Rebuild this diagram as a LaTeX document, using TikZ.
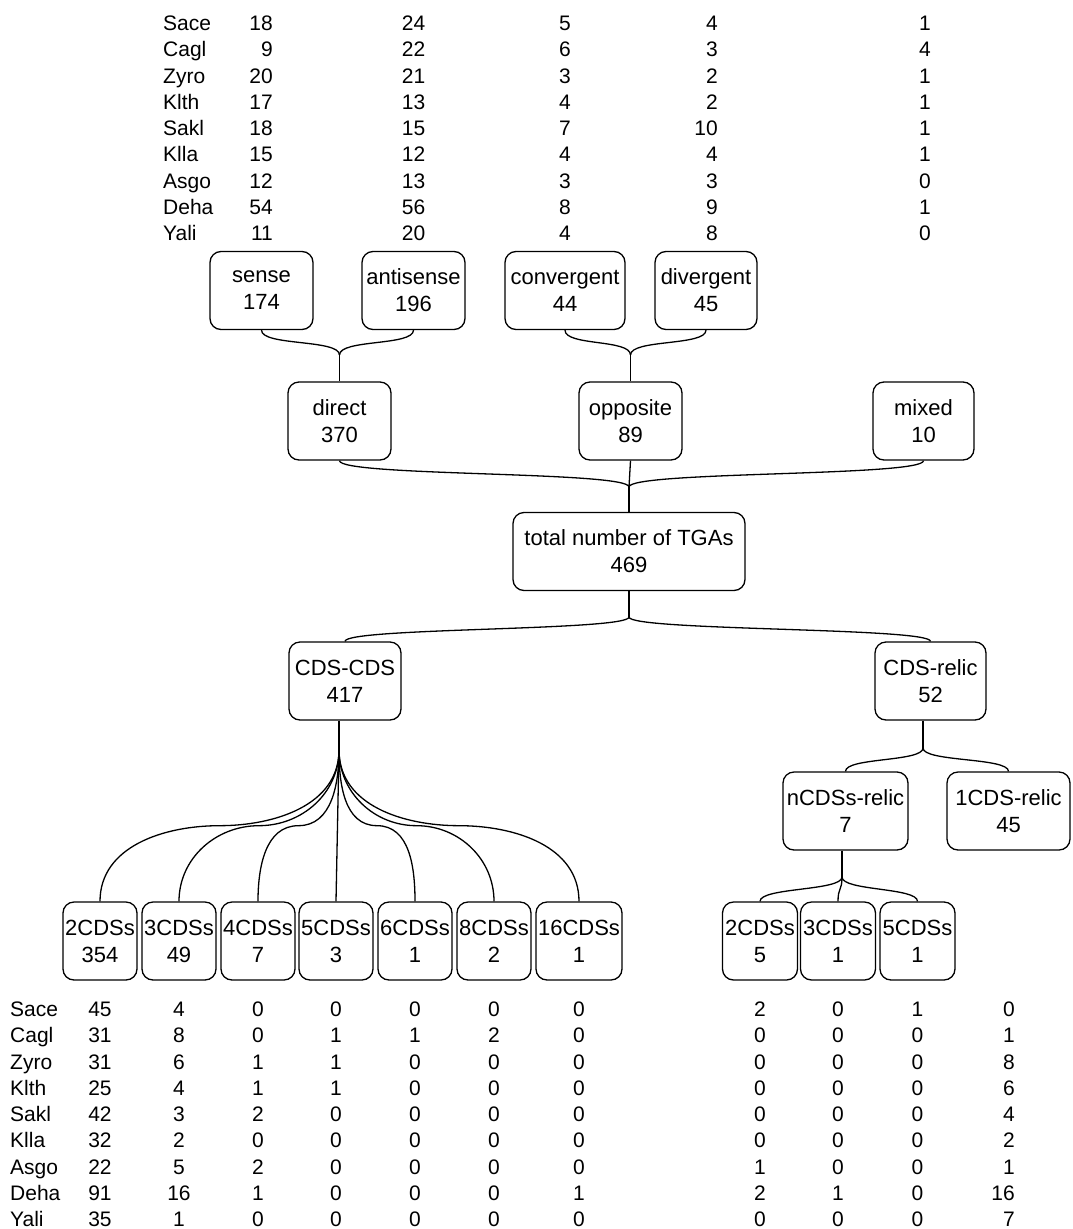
\documentclass[tikz,border=0pt]{standalone}
\usepackage{fontspec}
\setmainfont{Liberation Sans}
\usetikzlibrary{calc}
\begin{document}
\begin{tikzpicture}[x=1pt,y=-1pt,
  tbox/.style={draw, rounded corners=11pt, line width=1.3pt, minimum height=78pt,
    inner sep=0pt, align=center, font=\fontsize{22}{27}\selectfont},
  tcell/.style={inner sep=0pt, font=\fontsize{21}{25}\selectfont, anchor=base},
  link/.style={line width=1.3pt},
  brace/.style={out=-90, in=90, distance=16pt}
]
\fill[white] (0,0) rectangle (1073,1229);
\useasboundingbox (0,0) rectangle (1073,1229);

% ---- boxes ----
\node[tbox, minimum width=103pt] (sense)      at (261.5,290.5) {sense\\174};
\node[tbox, minimum width=103pt] (antisense)  at (413.5,290.5) {antisense\\196};
\node[tbox, minimum width=120pt] (convergent) at (565,290.5)   {convergent\\44};
\node[tbox, minimum width=102pt] (divergent)  at (706,290.5)   {divergent\\45};
\node[tbox, minimum width=103pt] (direct)     at (339.5,421)   {direct\\370};
\node[tbox, minimum width=103pt] (opposite)   at (630.5,421)   {opposite\\89};
\node[tbox, minimum width=101pt] (mixed)      at (923.5,421)   {mixed\\10};
\node[tbox, minimum width=232pt] (total)      at (629,551.5)   {total number of TGAs\\469};
\node[tbox, minimum width=112pt] (cdscds)     at (345,681)     {CDS-CDS\\417};
\node[tbox, minimum width=111pt] (cdsrelic)   at (930.5,681)   {CDS-relic\\52};
\node[tbox, minimum width=125pt] (ncds)       at (845.5,811)   {nCDSs-relic\\7};
\node[tbox, minimum width=123pt] (onecds)     at (1008.5,811)  {1CDS-relic\\45};
\node[tbox, minimum width=74pt] (b2)  at (100,941) {2CDSs\\354};
\node[tbox, minimum width=74pt] (b3)  at (179,941) {3CDSs\\49};
\node[tbox, minimum width=74pt] (b4)  at (258,941) {4CDSs\\7};
\node[tbox, minimum width=74pt] (b5)  at (336,941) {5CDSs\\3};
\node[tbox, minimum width=74pt] (b6)  at (415,941) {6CDSs\\1};
\node[tbox, minimum width=74pt] (b8)  at (494,941) {8CDSs\\2};
\node[tbox, minimum width=86pt] (b16) at (579,941) {16CDSs\\1};
\node[tbox, minimum width=75pt] (r2)  at (760,941)   {2CDSs\\5};
\node[tbox, minimum width=75pt] (r3)  at (838,941)   {3CDSs\\1};
\node[tbox, minimum width=75pt] (r5)  at (917.5,941) {5CDSs\\1};

% ---- junctions ----
\coordinate (j1)  at (339.5,355);
\coordinate (j2)  at (630.5,355);
\coordinate (j3)  at (629,487);
\coordinate (j4)  at (629,617);
\coordinate (j5)  at (923,748);
\coordinate (hub) at (339,750);
\coordinate (j6)  at (842,877);

% ---- connectors ----
\draw[link] (sense.south) to[brace] (j1);
\draw[link] (antisense.south) to[brace] (j1);
\draw[link] (j1) -- (direct.north);
\draw[link] (convergent.south) to[brace] (j2);
\draw[link] (divergent.south) to[brace] (j2);
\draw[link] (j2) -- (opposite.north);
\draw[link] (direct.south) to[brace] (j3);
\draw[link] (mixed.south) to[brace] (j3);
\draw[link] (opposite.south) -- (j3);
\draw[link] (j3) -- (total.north);
\draw[link] (total.south) -- (j4);
\draw[link] (j4) to[out=-90,in=90,distance=14pt] (cdscds.north);
\draw[link] (j4) to[out=-90,in=90,distance=14pt] (cdsrelic.north);
\draw[link] (cdsrelic.south -| j5) -- (j5);
\draw[link] (j5) to[out=-90,in=90,distance=14pt] (ncds.north);
\draw[link] (j5) to[out=-90,in=90,distance=14pt] (onecds.north);
\draw[link] (ncds.south -| j6) -- (j6);
\draw[link] (j6) to[out=-90,in=90,distance=14pt] (r2.north);
\draw[link] (j6) to[out=-90,in=90,distance=14pt] (r3.north);
\draw[link] (j6) to[out=-90,in=90,distance=14pt] (r5.north);
\draw[link] (cdscds.south -| hub) -- (hub);
\foreach \bx in {b2,b3,b4}{
  \draw[link] (hub) to[out=-90,in=0] ($(hub)!.5!(\bx.north)$) to[out=180,in=90] (\bx.north);
}
\draw[link] (hub) -- (b5.north);
\foreach \bx in {b6,b8,b16}{
  \draw[link] (hub) to[out=-90,in=180] ($(hub)!.5!(\bx.north)$) to[out=0,in=90] (\bx.north);
}

% ---- top table ----
\foreach [count=\i from 0] \na/\va/\vb/\vc/\vd/\ve in {
  Sace/18/24/5/4/1, Cagl/9/22/6/3/4, Zyro/20/21/3/2/1, Klth/17/13/4/2/1,
  Sakl/18/15/7/10/1, Klla/15/12/4/4/1, Asgo/12/13/3/3/0, Deha/54/56/8/9/1,
  Yali/11/20/4/8/0}{
  \pgfmathsetmacro\yy{30.5+26.25*\i}
  \node[tcell, anchor=base west] (tn\i) at (163,\yy) {\na};
  \node[tcell, anchor=base east] (ta\i) at (273,\yy) {\va};
  \node[tcell] (tb\i) at (413.5,\yy) {\vb};
  \node[tcell] (tc\i) at (565,\yy) {\vc};
  \node[tcell, anchor=base east] (td\i) at (718,\yy) {\vd};
  \node[tcell] (te\i) at (925,\yy) {\ve};
}

% ---- bottom tables ----
\foreach [count=\i from 0] \na/\va/\vb/\vc/\vd/\ve/\vf/\vg/\vh/\vk/\vl/\vm in {
  Sace/45/4/0/0/0/0/0/2/0/1/0, Cagl/31/8/0/1/1/2/0/0/0/0/1,
  Zyro/31/6/1/1/0/0/0/0/0/0/8, Klth/25/4/1/1/0/0/0/0/0/0/6,
  Sakl/42/3/2/0/0/0/0/0/0/0/4, Klla/32/2/0/0/0/0/0/0/0/0/2,
  Asgo/22/5/2/0/0/0/0/1/0/0/1, Deha/91/16/1/0/0/0/1/2/1/0/16,
  Yali/35/1/0/0/0/0/0/0/0/0/7}{
  \pgfmathsetmacro\yy{1016.5+26.25*\i}
  \node[tcell, anchor=base west] (bn\i) at (10,\yy) {\na};
  \node[tcell] (ba\i) at (100,\yy) {\va};
  \node[tcell] (bb\i) at (179,\yy) {\vb};
  \node[tcell] (bc\i) at (258,\yy) {\vc};
  \node[tcell] (bd\i) at (336,\yy) {\vd};
  \node[tcell] (be\i) at (415,\yy) {\ve};
  \node[tcell] (bf\i) at (494,\yy) {\vf};
  \node[tcell] (bg\i) at (579,\yy) {\vg};
  \node[tcell] (rh\i) at (760,\yy) {\vh};
  \node[tcell] (rk\i) at (838,\yy) {\vk};
  \node[tcell] (rl\i) at (917.5,\yy) {\vl};
  \node[tcell, anchor=base east] (rm\i) at (1015,\yy) {\vm};
}
\end{tikzpicture}
\end{document}
